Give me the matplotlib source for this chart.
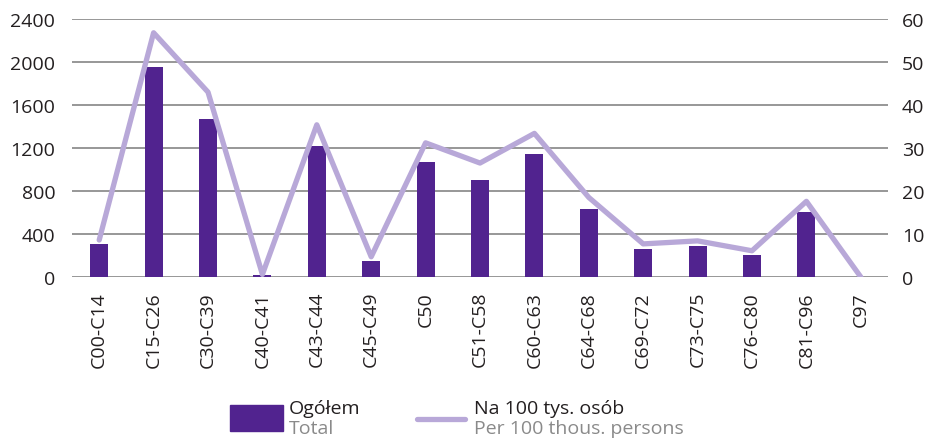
import matplotlib
matplotlib.use("Agg")
import matplotlib.pyplot as plt
from matplotlib.patches import Rectangle
from matplotlib.lines import Line2D

plt.rcParams['font.family'] = ['Open Sans', 'DejaVu Sans']

categories = ["C00-C14", "C15-C26", "C30-C39", "C40-C41", "C43-C44", "C45-C49",
              "C50", "C51-C58", "C60-C63", "C64-C68", "C69-C72", "C73-C75",
              "C76-C80", "C81-C96", "C97"]
total = [310, 1955, 1470, 20, 1220, 150, 1070, 905, 1145, 635, 262, 290, 205, 607, 0]
per_100k = [8.6, 56.8, 43.0, 0.6, 35.4, 4.7, 31.2, 26.5, 33.4, 18.5, 7.7, 8.4, 6.1, 17.6, 0.0]

left_ticks = [0, 400, 800, 1200, 1600, 2000, 2400]
right_ticks = [0, 10, 20, 30, 40, 50, 60]

bar_color = "#51238f"
line_color = "#b8a8d8"
grid_color = "#7a7a7a"
text_color = "#231f20"
fs = 14

fig = plt.figure(figsize=(9.27, 4.39), dpi=100)
ax = fig.add_axes([72 / 927, 1 - 278 / 439, (888 - 72) / 927, (278 - 20) / 439])
ax2 = ax.twinx()

x = list(range(len(categories)))
ax.bar(x, total, width=0.33, color=bar_color, zorder=2)
ax.set_xlim(-0.5, len(categories) - 0.5)
ax.set_ylim(0, 2400)
ax.set_yticks(left_ticks)
ax.set_yticklabels([str(t) for t in left_ticks])
for y in left_ticks:
    ax.axhline(y, color=grid_color, lw=1.1, zorder=1)

ax2.plot(x, per_100k, color=line_color, lw=3.8, solid_joinstyle="round",
         solid_capstyle="round", zorder=3)
ax2.set_ylim(0, 60)
ax2.set_yticks(right_ticks)
ax2.set_yticklabels([str(t) for t in right_ticks])

ax.set_zorder(1)
ax2.set_zorder(2)
ax2.patch.set_visible(False)

for a in (ax, ax2):
    for s in a.spines.values():
        s.set_visible(False)
    a.tick_params(length=0, labelsize=fs, colors=text_color)
ax.tick_params(axis="y", pad=12)
ax2.tick_params(axis="y", pad=10)

ax.set_xticks(x)
ax.set_xticklabels(categories, rotation=90, va="top", ha="center")
ax.tick_params(axis="x", pad=10, labelsize=fs)

# legend
fig.patches.append(Rectangle((230 / 927, 1 - 432 / 439), 53 / 927, 26 / 439,
                             transform=fig.transFigure, color=bar_color))
fig.text(289 / 927, 1 - 409 / 439, "Ogółem", fontsize=fs, color=text_color, va="center")
fig.text(289 / 927, 1 - 429 / 439, "Total", fontsize=fs, color="#8a8a8a", va="center")
fig.lines.append(Line2D([417 / 927, 465 / 927], [1 - 420 / 439, 1 - 420 / 439],
                        transform=fig.transFigure, color=line_color, lw=3.8,
                        solid_capstyle="round"))
fig.text(474 / 927, 1 - 409 / 439, "Na 100 tys. osób", fontsize=fs, color=text_color, va="center")
fig.text(474 / 927, 1 - 429 / 439, "Per 100 thous. persons", fontsize=fs, color="#8a8a8a", va="center")

fig.savefig("out.png", dpi=100)
